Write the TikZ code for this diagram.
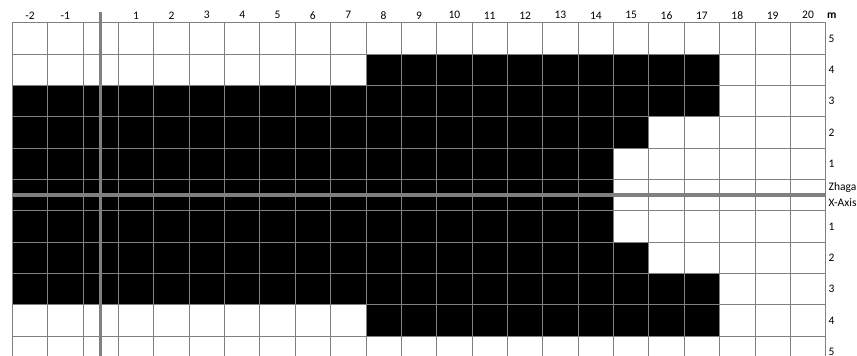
\documentclass[tikz,border=0pt]{standalone}
\usepackage{fontspec}
\setmainfont{Carlito}
\newcommand\cx[1]{12.3+(#1)*35.365}
\newcommand\ry[1]{22.7+(#1)*31.33}
\tikzset{
  gridline/.style={draw=black!50, line width=0.9pt},
  axisline/.style={draw=black!50, line width=3.4pt},
  cellfill/.style={fill=black},
  lbl/.style={inner sep=0pt, font=\fontsize{11.5}{13}\selectfont},
  rlbl/.style={lbl, anchor=west}
}
\begin{document}
\begin{tikzpicture}[x=1pt,y=-1pt]
\useasboundingbox (0,0) rectangle (857,356);
\clip (0,0) rectangle (857,356);
% black cells
\fill[cellfill] ({\cx{10}},{\ry{1}}) rectangle ({\cx{20}},{\ry{2}});
\fill[cellfill] ({\cx{0}},{\ry{2}}) rectangle ({\cx{20}},{\ry{3}});
\fill[cellfill] ({\cx{0}},{\ry{3}}) rectangle ({\cx{18}},{\ry{4}});
\fill[cellfill] ({\cx{0}},{\ry{4}}) rectangle ({\cx{17}},{\ry{7}});
\fill[cellfill] ({\cx{0}},{\ry{7}}) rectangle ({\cx{18}},{\ry{8}});
\fill[cellfill] ({\cx{0}},{\ry{8}}) rectangle ({\cx{20}},{\ry{9}});
\fill[cellfill] ({\cx{10}},{\ry{9}}) rectangle ({\cx{20}},{\ry{10}});
% grid
\foreach \c in {0,...,23} \draw[gridline] ({\cx{\c}},{\ry{0}}) -- ({\cx{\c}},357);
\foreach \r in {0,...,10} \draw[gridline] ({\cx{0}},{\ry{\r}}) -- ({\cx{23}},{\ry{\r}});
% axes
\draw[axisline] ({\cx{2.5}},12) -- ({\cx{2.5}},357);
\draw[axisline] ({\cx{0}},{\ry{5.5}}) -- ({\cx{23}},{\ry{5.5}});
% column labels
\node[lbl] (cm2) at ({\cx{0.5}},15.3) {-2};
\node[lbl] (cm1) at ({\cx{1.5}},15.3) {-1};
\foreach \n in {1,...,20} \node[lbl] (c\n) at ({\cx{\n+2.5}},15.3) {\n};
\node[lbl, font=\fontsize{11.5}{13}\selectfont\bfseries] (unit) at (831.7,15.3) {m};
% row labels
\foreach \r/\t in {0/5,1/4,2/3,3/2,4/1} \node[rlbl] (ra\t) at (828.5,{\ry{\r+0.5}}) {\t};
\node[rlbl] (zhaga) at (828.5,{\ry{5.25}}) {Zhaga};
\node[rlbl] (xaxis) at (828.5,{\ry{5.75}}) {X-Axis};
\foreach \r/\t in {6/1,7/2,8/3,9/4,10/5} \node[rlbl] (rb\t) at (828.5,{\ry{\r+0.5}}) {\t};
\end{tikzpicture}
\end{document}
